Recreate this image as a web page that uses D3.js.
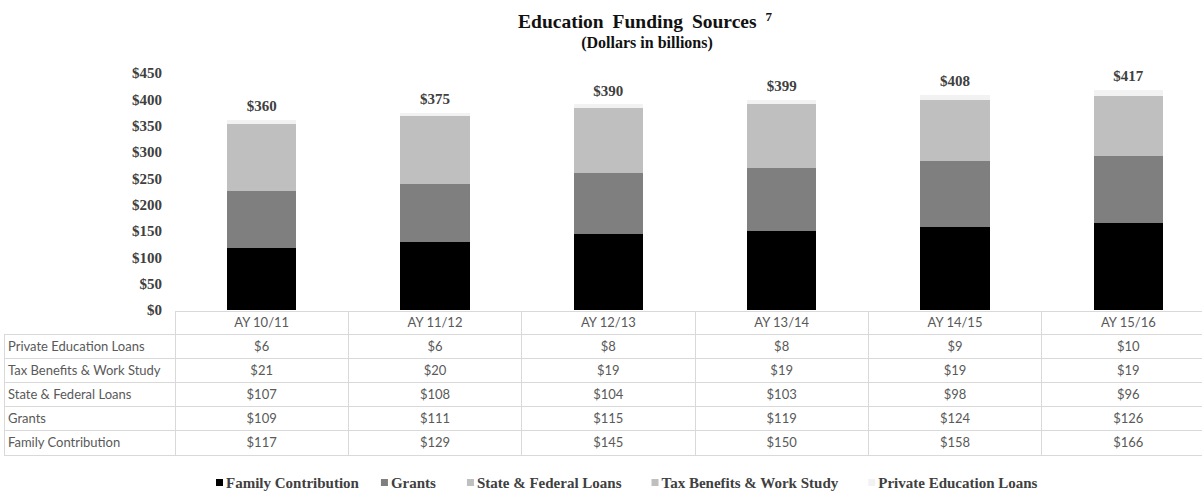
<!DOCTYPE html>
<html>
<head>
<meta charset="utf-8">
<script src="https://cdn.jsdelivr.net/npm/d3@7"></script>
<style>
  html, body { margin: 0; padding: 0; background: #ffffff; }
  svg { display: block; }
</style>
</head>
<body>
<svg id="chart" width="1202" height="491"></svg>
<script>
// ---- data ----
const categories = ["AY 10/11", "AY 11/12", "AY 12/13", "AY 13/14", "AY 14/15", "AY 15/16"];
const familyContribution = [117, 129, 145, 150, 158, 166];
const grants = [109, 111, 115, 119, 124, 126];
const stateFederalLoans = [107, 108, 104, 103, 98, 96];
const taxBenefitsWorkStudy = [21, 20, 19, 19, 19, 19];
const privateEducationLoans = [6, 6, 8, 8, 9, 10];
const totals = [360, 375, 390, 399, 408, 417];
const yTickValues = [0, 50, 100, 150, 200, 250, 300, 350, 400, 450];

const seriesNames = ["Family Contribution", "Grants", "State & Federal Loans", "Tax Benefits & Work Study", "Private Education Loans"];
const seriesValues = [familyContribution, grants, stateFederalLoans, taxBenefitsWorkStudy, privateEducationLoans];
const seriesColors = ["#000000", "#7f7f7f", "#bfbfbf", "#bfbfbf", "#f2f2f2"];
const tableOrder = [4, 3, 2, 1, 0];

// ---- layout ----
const svg = d3.select("#chart");
const plotLeft = 175, plotRight = 1215;
const yBottom = 310, yTop = 73;
const serif = "'Liberation Serif', 'Times New Roman', serif";
const sans = "Lato, 'Open Sans', sans-serif";

const rows = categories.map((c, i) => {
  const r = { cat: c };
  seriesNames.forEach((s, k) => r[s] = seriesValues[k][i]);
  return r;
});

const x = d3.scaleBand().domain(categories).range([plotLeft, plotRight]).paddingInner(0.6).paddingOuter(0.3);
const xCol = d3.scaleBand().domain(categories).range([plotLeft, plotRight]);
const y = d3.scaleLinear().domain([0, 450]).range([yBottom, yTop]);

// title
const title = svg.append("text")
  .attr("x", 645).attr("y", 28).attr("text-anchor", "middle")
  .attr("font-family", serif).attr("font-weight", "bold").attr("font-size", 19.5)
  .attr("fill", "#111").attr("word-spacing", 4);
title.append("tspan").text("Education Funding Sources ");
title.append("tspan").attr("font-size", 13).attr("dy", -7).text("7");
svg.append("text")
  .attr("x", 647).attr("y", 48).attr("text-anchor", "middle")
  .attr("font-family", serif).attr("font-weight", "bold").attr("font-size", 16)
  .attr("fill", "#111").text("(Dollars in billions)");

// y axis
const yAxis = d3.axisLeft(y).tickValues(yTickValues).tickSize(0).tickPadding(0).tickFormat(d => "$" + d);
const yg = svg.append("g").attr("transform", "translate(162,0)").call(yAxis);
yg.select(".domain").remove();
yg.selectAll("text").attr("font-family", serif).attr("font-weight", "bold")
  .attr("font-size", 15).attr("fill", "#404040");

// stacked bars
const stack = d3.stack().keys(seriesNames);
const stacked = stack(rows);
svg.append("g").attr("shape-rendering", "crispEdges").selectAll("g").data(stacked).join("g")
  .attr("fill", (d, i) => seriesColors[i])
  .selectAll("rect").data(d => d).join("rect")
  .attr("x", d => x(d.data.cat))
  .attr("width", x.bandwidth())
  .attr("y", d => y(d[1]))
  .attr("height", d => y(d[0]) - y(d[1]));

// total labels
svg.append("g").selectAll("text").data(categories).join("text")
  .attr("x", d => x(d) + x.bandwidth() / 2)
  .attr("y", (d, i) => y(totals[i]) - 9)
  .attr("text-anchor", "middle")
  .attr("font-family", serif).attr("font-weight", "bold").attr("font-size", 15)
  .attr("fill", "#404040")
  .text((d, i) => "$" + totals[i]);

// data table
const tableTop = 311, headerH = 23, rowH = 24.2, tableLeft = 4;
const grid = "#d9d9d9";
const tg = svg.append("g").attr("shape-rendering", "crispEdges");
tg.append("line").attr("x1", plotLeft).attr("x2", 1202).attr("y1", tableTop).attr("y2", tableTop).attr("stroke", grid);
const rowTops = tableOrder.map((k, j) => tableTop + headerH + j * rowH);
const tableBottom = tableTop + headerH + tableOrder.length * rowH;
[tableTop + headerH, ...rowTops.slice(1), tableBottom].forEach(yy => {
  tg.append("line").attr("x1", tableLeft).attr("x2", 1202).attr("y1", yy).attr("y2", yy).attr("stroke", grid);
});
tg.append("line").attr("x1", tableLeft).attr("x2", tableLeft).attr("y1", tableTop + headerH).attr("y2", tableBottom).attr("stroke", grid);
categories.forEach(c => {
  tg.append("line").attr("x1", xCol(c)).attr("x2", xCol(c)).attr("y1", tableTop).attr("y2", tableBottom).attr("stroke", grid);
});
const tt = svg.append("g");
tt.selectAll("text.hdr").data(categories).join("text").attr("class", "hdr")
  .attr("x", d => xCol(d) + xCol.bandwidth() / 2)
  .attr("y", tableTop + headerH / 2 + 4.5)
  .attr("text-anchor", "middle").attr("font-family", sans).attr("font-size", 13).attr("fill", "#595959")
  .text(d => d);
tableOrder.forEach((k, j) => {
  const cy = rowTops[j] + rowH / 2 + 4.5;
  tt.append("text").attr("x", tableLeft + 4).attr("y", cy)
    .attr("font-family", sans).attr("font-size", 13).attr("fill", "#595959")
    .text(seriesNames[k]);
  tt.selectAll("text.v" + k).data(categories).join("text").attr("class", "v" + k)
    .attr("x", d => xCol(d) + xCol.bandwidth() / 2).attr("y", cy)
    .attr("text-anchor", "middle").attr("font-family", sans).attr("font-size", 13).attr("fill", "#595959")
    .text((d, i) => "$" + seriesValues[k][i]);
});

// legend
const lg = svg.append("g");
let lx = 216;
const ly = 488;
const legendGaps = [22, 31, 30, 30, 0];
seriesNames.forEach((s, i) => {
  lg.append("rect").attr("x", lx).attr("y", ly - 9).attr("width", 7).attr("height", 7).attr("fill", seriesColors[i]);
  const t = lg.append("text").attr("x", lx + 10).attr("y", ly)
    .attr("font-family", serif).attr("font-weight", "bold").attr("font-size", 15)
    .attr("fill", "#404040")
    .text(s);
  lx += 10 + t.node().getComputedTextLength() + legendGaps[i];
});
</script>
</body>
</html>
